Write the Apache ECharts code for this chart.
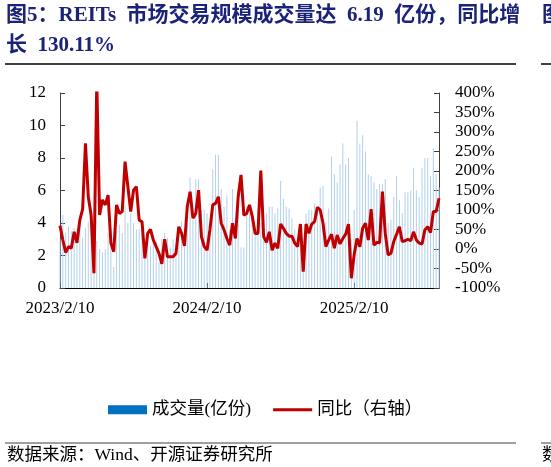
<!DOCTYPE html>
<html><head><meta charset="utf-8">
<script src="https://cdn.jsdelivr.net/npm/echarts@6/dist/echarts.min.js"></script>
<style>html,body{margin:0;padding:0;background:#fff}#c{width:551px;height:467px}</style>
</head><body><div id="c"></div>
<script>
const startDate = '2023/2/10';
const tickLabels = ['2023/2/10', '2024/2/10', '2025/2/10'];
const seriesNames = ['成交量(亿份)', '同比（右轴）'];
const volume = [3.0,
 4.5,3.4,3.8,3.5,3.7,3.7,4.1,3.1,3.7,4.1, 4.6,3.2,2.9,2.4,2.2,2.4,3.4,2.9,1.3,3.5,
 3.9,3.4,5.1,4.0,4.6,4.0,3.6,3.6,3.3,1.9, 3.1,2.6,3.1,2.9,1.6,3.0,3.4,3.1,2.5,3.0,
 2.4,3.7,4.1,3.6,3.9,6.8,4.2,6.7,6.7,4.8, 4.8,4.6,3.0,7.3,8.2,8.2,6.1,5.0,5.7,3.6,
 6.1,3.2,5.8,2.5,2.5,5.0,4.6,
 4.4,3.6,4.8,4.0,4.2,4.6,5.0,5.0,4.6,4.9, 6.6,5.5,5.0,4.9,4.3,3.6,2.9,3.7,3.0,4.6,
 4.8,4.8,5.2,5.0,6.2,6.3,4.0,4.9,8.1,7.0, 6.5,7.6,8.9,7.6,8.0,3.0,4.8,10.3,8.9,9.4,
 8.4,7.0,6.9,6.5,6.1,6.4,6.4,6.7,4.0,4.2, 5.6,6.9,5.4,4.6,5.9,5.9,6.0,7.4,6.0,5.6,
 7.4,8.0,8.0,6.9,8.6,7.0,6.19];
const yoy = [60,23,-9,6,2,44,16,74,102,271, 134,87,-62,430,87,126,113,138,15,-7,
 113,91,96,224,160,96,151,160,74,70, -24,40,50,23,6,-11,-38,25,-20,-20,
 -20,-11,57,40,8,109,147,79,91,151, 32,6,-3,49,113,117,134,66,49,27,
 10,66,27,134,190,87,91,113,
 83,40,40,201,32,17,44,-3,15,2, 64,53,40,33,33,15,6,64,-58,64,
 40,64,70,107,100,66,6,23,38,2, 36,13,27,38,64,-75,-15,27,6,53,
 66,23,102,10,17,16,147,40,-15,-11, 19,38,57,19,21,25,21,44,23,15,
 13,49,57,42,96,96,130.11];

// weekly category dates
function parseD(s){const p=s.split('/').map(Number);return new Date(p[0],p[1]-1,p[2]);}
const categories = [];
const dates = [];
const d0 = parseD(startDate);
for (let i = 0; i < volume.length; i++) {
  const d = new Date(d0.getFullYear(), d0.getMonth(), d0.getDate() + 7*i);
  dates.push(d);
  categories.push(d.getFullYear()+'/'+(d.getMonth()+1)+'/'+d.getDate());
}
const labelAt = {};
tickLabels.forEach(t => {
  const td = parseD(t).getTime();
  let best = 0, bd = Infinity;
  dates.forEach((d, i) => { const df = Math.abs(d.getTime()-td); if (df < bd) { bd = df; best = i; } });
  labelAt[best] = t;
});

const serif = '"Liberation Serif","Times New Roman","Noto Sans CJK SC",serif';
const cjk = '"Liberation Serif","Noto Sans CJK SC",serif';
const chart = echarts.init(document.getElementById('c'), null, {renderer:'canvas'});
chart.setOption({
  animation: false,
  backgroundColor: '#fff',
  grid: {left: 60, right: 112, top: 93, bottom: 179, containLabel: false},
  legend: {
    left: 103, top: 396, itemWidth: 39, itemHeight: 9, itemGap: 22,
    textStyle: {fontFamily: cjk, fontSize: 17.5, color: '#000'},
    data: [
      {name: seriesNames[0], icon: 'rect', itemStyle: {color: '#0070C0'}},
      {name: seriesNames[1], icon: 'path://M0,0L0.01,0ZM0,3L40,3L40,6L0,6ZM40,9L39.99,9Z', itemStyle: {color: '#C00000'}}
    ]
  },
  xAxis: {
    type: 'category', data: categories, boundaryGap: false,
    axisLine: {show: true, lineStyle: {color: '#000', width: 1}},
    axisTick: {show: true, inside: true, length: 5, interval: (i) => labelAt[i] !== undefined, lineStyle: {color: '#000'}},
    axisLabel: {interval: (i) => labelAt[i] !== undefined, formatter: (v, i) => labelAt[i] || '',
      fontFamily: serif, fontSize: 17, color: '#000', margin: 12},
    splitLine: {show: false}
  },
  yAxis: [
    {type: 'value', min: 0, max: 12, interval: 2, position: 'left',
     axisLine: {show: true, lineStyle: {color: '#404040'}},
     axisTick: {show: true, inside: true, length: 5, lineStyle: {color: '#404040'}},
     axisLabel: {fontFamily: serif, fontSize: 17, color: '#000', margin: 14},
     splitLine: {show: false}},
    {type: 'value', min: -100, max: 400, interval: 50, position: 'right',
     axisLine: {show: true, lineStyle: {color: '#404040'}},
     axisTick: {show: true, inside: true, length: 5, lineStyle: {color: '#404040'}},
     axisLabel: {fontFamily: serif, fontSize: 17, color: '#000', margin: 16, formatter: '{value}%'},
     splitLine: {show: false}}
  ],
  series: [
    {name: seriesNames[0], type: 'bar', data: volume, yAxisIndex: 0, barWidth: 1,
     itemStyle: {color: '#B0D0EC'}, z: 1},
    {name: seriesNames[1], type: 'line', data: yoy, yAxisIndex: 1, symbol: 'none', showSymbol: false,
     lineStyle: {color: '#C00000', width: 3}, itemStyle: {color: '#C00000'}, clip: true, z: 3}
  ],
  graphic: [
    {type: 'text', left: 6, top: 5, style: {text: '图5：REITs  市场交易规模成交量达  6.19  亿份，同比增', font: 'bold 21px ' + cjk, fill: '#1B2378'}},
    {type: 'text', left: 6, top: 35, style: {text: '长  130.11%', font: 'bold 21px ' + cjk, fill: '#1B2378'}},
    {type: 'line', shape: {x1: 5, y1: 64, x2: 516, y2: 64}, style: {stroke: '#000', lineWidth: 1.5}},
    {type: 'line', shape: {x1: 541, y1: 64, x2: 551, y2: 64}, style: {stroke: '#000', lineWidth: 1.5}},
    {type: 'text', left: 542, top: 5, style: {text: '图6', font: 'bold 21px ' + cjk, fill: '#1B2378'}},
    {type: 'line', shape: {x1: 5, y1: 443, x2: 516, y2: 443}, style: {stroke: '#404040', lineWidth: 1}},
    {type: 'line', shape: {x1: 541, y1: 443, x2: 551, y2: 443}, style: {stroke: '#404040', lineWidth: 1}},
    {type: 'text', left: 7, top: 447, style: {text: '数据来源：Wind、开源证券研究所', font: '17.5px ' + cjk, fill: '#000'}},
    {type: 'text', left: 542, top: 447, style: {text: '数据', font: '17.5px ' + cjk, fill: '#000'}}
  ]
});
</script></body></html>
